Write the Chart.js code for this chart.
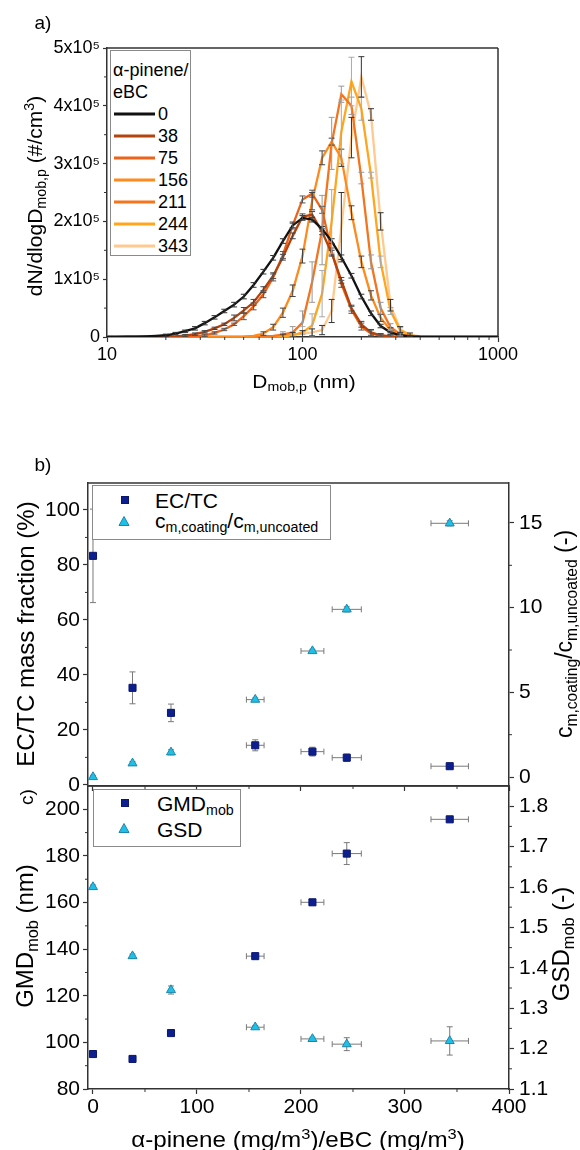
<!DOCTYPE html>
<html>
<head>
<meta charset="utf-8">
<script src="https://cdn.jsdelivr.net/npm/chart.js@4.4.1/dist/chart.umd.min.js"></script>
<style>
html,body{margin:0;padding:0;background:#fff;}
#wrap{position:relative;width:580px;height:1150px;overflow:hidden;font-family:"Liberation Sans",Arial,Helvetica,sans-serif;color:#000;}
canvas{position:absolute;left:0;}
.t{position:absolute;white-space:nowrap;line-height:1;}
.rot{transform:translate(-50%,-50%) rotate(-90deg);}
.ctr{transform:translate(-50%,-50%);}
.hs{transform:translate(-50%,-50%) scaleX(1.1);}
.sb{font-size:0.68em;vertical-align:-0.3em;}
.sp{font-size:0.68em;vertical-align:0.55em;}
.leg{position:absolute;border:1px solid #8a8a8a;background:#fff;box-sizing:border-box;}
.leg .it{position:absolute;white-space:nowrap;line-height:1;transform:translateY(-50%);}
.leg .ln{position:absolute;height:3px;transform:translateY(-50%);}
.leg svg{position:absolute;transform:translate(-50%,-50%);}
</style>
</head>
<body>
<div id="wrap">
  <canvas id="cA" width="580" height="410" style="top:0px"></canvas>
  <canvas id="cB" width="580" height="380" style="top:440px"></canvas>
  <canvas id="cC" width="580" height="390" style="top:760px"></canvas>

  <div class="t ctr" style="left:43px;top:22px;font-size:19px">a)</div>
  <div class="t ctr" style="left:43px;top:464px;font-size:19px">b)</div>
  <div class="t rot" style="left:26px;top:797px;font-size:19px">c)</div>

  <div class="t rot" style="left:35px;top:196px;font-size:21px">dN/dlogD<span class="sb">mob,p</span> (#/cm<span class="sp">3</span>)</div>
  <div class="t hs" style="left:304px;top:383px;font-size:19px">D<span class="sb">mob,p</span> (nm)</div>

  <div class="t rot" style="left:26px;top:634px;font-size:24px">EC/TC mass fraction (%)</div>
  <div class="t rot" style="left:566px;top:634px;font-size:23px">c<span class="sb">m,coating</span>/c<span class="sb">m,uncoated</span> (-)</div>

  <div class="t rot" style="left:27px;top:936px;font-size:24px">GMD<span class="sb">mob</span> (nm)</div>
  <div class="t rot" style="left:563px;top:944px;font-size:24px">GSD<span class="sb">mob</span> (-)</div>
  <div class="t hs" style="left:298px;top:1139px;font-size:22px">α-pinene (mg/m<span class="sp">3</span>)/eBC (mg/m<span class="sp">3</span>)</div>

  <div class="leg" id="legA" style="left:110px;top:50px;width:81px;height:206px;"></div>
  <div class="leg" id="legB" style="left:92px;top:485px;width:239px;height:55px;"></div>
  <div class="leg" id="legC" style="left:93px;top:789px;width:148px;height:58px;"></div>
</div>

<script>
const FONT = '"Liberation Sans", Arial, Helvetica, sans-serif';

// ---------- Panel a: size distributions (values in units of 10^5 #/cm3) ----------
const diameters = [10,11.2,12.6,14.1,15.8,17.8,20,22.4,25.1,28.2,31.6,35.5,39.8,44.7,50.1,56.2,63.1,70.8,79.4,89.1,100,112,126,141,158,178,200,224,251,282,316,355,398,447,501,562,631,708,794,891,1000];
const loadingLabels = ['0','38','75','156','211','244','343'];
const dist0   = [0,0.002,0.004,0.007,0.012,0.02,0.03,0.06,0.1,0.15,0.24,0.34,0.45,0.56,0.7,0.9,1.13,1.37,1.66,1.93,2.06,2.03,1.87,1.66,1.38,1.06,0.7,0.41,0.19,0.08,0.03,0.01,0.004,0.002,0,0,0,0,0,0,0];
const dist38  = [0,0,0,0,0.001,0.003,0.006,0.012,0.025,0.05,0.09,0.15,0.22,0.33,0.46,0.6,0.82,1.06,1.38,1.75,2.08,2.12,1.82,1.45,0.98,0.5,0.22,0.08,0.03,0.01,0.003,0,0,0,0,0,0,0,0,0,0];
const dist75  = [0,0,0,0,0,0,0,0,0.005,0.01,0.03,0.07,0.13,0.22,0.36,0.53,0.74,1.03,1.42,1.93,2.38,2.48,2.2,1.48,0.92,0.47,0.18,0.06,0.02,0.005,0,0,0,0,0,0,0,0,0,0,0];
const dist156 = [0,0,0,0,0,0,0,0,0,0,0,0,0,0,0.005,0.02,0.06,0.17,0.42,0.8,1.4,2.35,3.1,3.38,3.1,2.15,1.3,0.72,0.33,0.12,0.04,0.01,0,0,0,0,0,0,0,0,0];
const dist211 = [0,0,0,0,0,0,0,0,0,0,0,0,0,0,0,0,0.01,0.02,0.04,0.08,0.25,0.95,1.85,3.35,4.2,4.0,2.75,1.3,0.5,0.17,0.05,0.015,0,0,0,0,0,0,0,0,0];
const dist244 = [0,0,0,0,0,0,0,0,0,0,0,0,0,0,0,0,0,0,0.01,0.03,0.08,0.2,0.75,2.0,3.55,4.42,3.95,2.8,1.3,0.45,0.12,0.03,0,0,0,0,0,0,0,0,0];
const dist343 = [0,0,0,0,0,0,0,0,0,0,0,0,0,0,0,0,0,0,0.02,0.04,0.06,0.08,0.12,0.45,1.9,3.45,4.5,3.85,2.0,0.55,0.13,0.04,0.01,0,0,0,0,0,0,0,0];

const err0   = [0,0,0,0,0,0,0.02,0.02,0.02,0.03,0.03,0.03,0.03,0.04,0.04,0.04,0.04,0.04,0.04,0.04,0.04,0.04,0.04,0.04,0.04,0.04,0.04,0.04,0.03,0.03,0.02,0.02,0,0,0,0,0,0,0,0,0];
const err38  = [0,0,0,0,0,0,0,0,0.02,0.02,0.02,0.02,0.02,0.05,0.05,0.05,0.05,0.05,0.05,0.05,0.05,0.05,0.05,0.05,0.05,0.05,0.05,0.05,0.03,0.03,0.03,0,0,0,0,0,0,0,0,0,0];
const err75  = [0,0,0,0,0,0,0,0,0,0,0.02,0.02,0.02,0.02,0.06,0.06,0.06,0.06,0.06,0.06,0.06,0.06,0.06,0.06,0.06,0.06,0.06,0.06,0.03,0.03,0,0,0,0,0,0,0,0,0,0,0];
const err156 = [0,0,0,0,0,0,0,0,0,0,0,0,0,0,0,0,0.03,0.05,0.08,0.1,0.12,0.15,0.12,0.06,0.15,0.12,0.1,0.08,0.06,0.04,0.03,0,0,0,0,0,0,0,0,0,0];
const err211 = [0,0,0,0,0,0,0,0,0,0,0,0,0,0,0,0,0,0,0.05,0.1,0.2,0.35,0.6,0.45,0.14,0.15,0.1,0.12,0.1,0.06,0.03,0,0,0,0,0,0,0,0,0,0];
const err244 = [0,0,0,0,0,0,0,0,0,0,0,0,0,0,0,0,0,0,0,0.03,0.1,0.2,0.4,0.55,0.55,0.42,0.2,0.05,0.1,0.06,0.04,0,0,0,0,0,0,0,0,0,0];
const err343 = [0,0,0,0,0,0,0,0,0,0,0,0,0,0,0,0,0,0,0.03,0.04,0.05,0.06,0.08,0.2,0.6,0.35,0.35,0.1,0.15,0.1,0.05,0.03,0,0,0,0,0,0,0,0,0];

const distSeries = [dist0, dist38, dist75, dist156, dist211, dist244, dist343];
const distErrors = [err0, err38, err75, err156, err211, err244, err343];
const lineColors = ['#111111','#b3430f','#ec6419','#ff8a1f','#f5741e','#ffa51e','#ffc98f'];
const errColors  = ['#333333','#444444','#555555','#444444','#999999','#aaaaaa','#333333'];
const yTicksA = [0,1,2,3,4,5];
const xTicksA = [10,100,1000];

// ---------- Panels b and c ----------
const loading    = [0, 38, 75, 156, 211, 244, 343];
const loadingErr = [0, 0, 0, 8.5, 11, 14, 18];
const ecTc       = [83.3, 35.3, 26.2, 14.4, 12.1, 9.9, 6.8];
const ecTcErr    = [17, 5.8, 3.2, 2.0, 1.6, 1.3, 0.6];
const massRatio    = [0, 0.81, 1.46, 4.57, 7.44, 9.9, 14.98];
const massRatioErr = [0.1, 0.1, 0.15, 0.1, 0.1, 0.15, 0.15];
const gmd    = [95, 92.9, 104, 137, 160.1, 181, 195.7];
const gmdErr = [0.6, 0.4, 0.9, 0.6, 1.2, 4.7, 0.6];
const gsd    = [1.6, 1.429, 1.345, 1.253, 1.224, 1.211, 1.219];
const gsdErr = [0.005, 0.005, 0.01, 0.004, 0.004, 0.016, 0.035];

const xTicksBC = [0, 100, 200, 300, 400];
const yTicksB  = [0, 20, 40, 60, 80, 100];
const y2TicksB = [0, 5, 10, 15];
const yTicksC  = [80, 100, 120, 140, 160, 180, 200];
const y2TicksC = [1.1, 1.2, 1.3, 1.4, 1.5, 1.6, 1.7, 1.8];

const SQ_FILL = '#0d1f8f', SQ_EDGE = '#0a1670';
const TRI_FILL = '#1fc0e6', TRI_EDGE = '#1d86ad';

// ---------- plugins ----------
function drawErr(chart, opts) {
  const ctx = chart.ctx, cap = opts.cap || 3, a = chart.chartArea;
  ctx.save();
  if (opts.clip) { ctx.beginPath(); ctx.rect(a.left, a.top - 40, a.right - a.left, a.bottom - a.top + 40); ctx.clip(); }
  ctx.lineWidth = opts.width || 1;
  chart.data.datasets.forEach((ds, i) => {
    const meta = chart.getDatasetMeta(i);
    const xs = chart.scales[meta.xAxisID], ys = chart.scales[meta.yAxisID];
    ctx.strokeStyle = ds.errColor || '#777';
    ctx.beginPath();
    ds.data.forEach((p, j) => {
      const ey = ds.errY ? ds.errY[j] : 0;
      const ex = ds.errX ? ds.errX[j] : 0;
      const px = xs.getPixelForValue(p.x), py = ys.getPixelForValue(p.y);
      if (ey > 0) {
        const y1 = ys.getPixelForValue(p.y + ey), y2 = ys.getPixelForValue(p.y - ey);
        ctx.moveTo(px, y1); ctx.lineTo(px, y2);
        ctx.moveTo(px - cap, y1); ctx.lineTo(px + cap, y1);
        ctx.moveTo(px - cap, y2); ctx.lineTo(px + cap, y2);
      }
      if (ex > 0) {
        const x1 = xs.getPixelForValue(p.x - ex), x2 = xs.getPixelForValue(p.x + ex);
        ctx.moveTo(x1, py); ctx.lineTo(x2, py);
        ctx.moveTo(x1, py - cap); ctx.lineTo(x1, py + cap);
        ctx.moveTo(x2, py - cap); ctx.lineTo(x2, py + cap);
      }
    });
    ctx.stroke();
  });
  ctx.restore();
}
const errorBarsPlugin = {
  id: 'errorBars',
  beforeDatasetsDraw(chart, args, opts) { if (opts.under) drawErr(chart, opts); },
  afterDatasetsDraw(chart, args, opts) { if (!opts.under) drawErr(chart, opts); }
};
const minorTicksPlugin = {
  id: 'minorTicks',
  afterDraw(chart, args, opts) {
    const ctx = chart.ctx;
    ctx.save();
    ctx.strokeStyle = '#333'; ctx.lineWidth = 1;
    Object.keys(chart.scales).forEach(id => {
      const vals = opts[id]; if (!vals) return;
      const s = chart.scales[id], len = opts.len || 3;
      ctx.beginPath();
      vals.forEach(v => {
        if (v < s.min || v > s.max) return;
        const p = s.getPixelForValue(v);
        if (s.isHorizontal()) { ctx.moveTo(p, s.top); ctx.lineTo(p, s.top + len); }
        else if (s.position === 'left') { ctx.moveTo(s.right, p); ctx.lineTo(s.right - len, p); }
        else { ctx.moveTo(s.left, p); ctx.lineTo(s.left + len, p); }
      });
      ctx.stroke();
    });
    ctx.restore();
  }
};
const framePlugin = {
  id: 'frame',
  afterDraw(chart, args, opts) {
    const ctx = chart.ctx, a = chart.chartArea;
    ctx.save();
    ctx.strokeStyle = '#333'; ctx.lineWidth = 1.5;
    ctx.beginPath();
    if (opts.top) { ctx.moveTo(a.left, a.top); ctx.lineTo(a.right, a.top); }
    if (opts.right) { ctx.moveTo(a.right, a.top); ctx.lineTo(a.right, a.bottom); }
    ctx.stroke();
    ctx.restore();
  }
};

function axisStyle(extra) {
  return Object.assign({
    grid: { display: true, drawOnChartArea: false, drawTicks: true, tickLength: 5, tickColor: '#333', tickWidth: 1.2 },
    border: { display: true, color: '#333', width: 1.5 }
  }, extra);
}
const fixTicks = arr => (s => { s.ticks = arr.map(v => ({ value: v })); });

// ---------- chart a ----------
const minorLog = [];
[10, 100].forEach(dec => { for (let m = 2; m <= 9; m++) minorLog.push(m * dec); });

new Chart(document.getElementById('cA'), {
  type: 'scatter',
  data: {
    datasets: distSeries.map((vals, i) => ({
      label: loadingLabels[i],
      data: diameters.map((d, j) => ({ x: d, y: vals[j] })),
      errY: distErrors[i],
      errColor: errColors[i],
      showLine: true,
      borderColor: lineColors[i],
      backgroundColor: lineColors[i],
      borderWidth: 2.3,
      pointRadius: 0,
      tension: 0,
      fill: false
    }))
  },
  options: {
    responsive: false, animation: false,
    layout: { padding: { left: 0, right: 82, top: 48, bottom: 0 } },
    plugins: {
      legend: { display: false }, tooltip: { enabled: false },
      errorBars: { under: false, cap: 3, clip: true, width: 1 },
      minorTicks: { x: minorLog, y: [0.5, 1.5, 2.5, 3.5, 4.5], len: 3 },
      frame: { top: true, right: true }
    },
    scales: {
      x: axisStyle({
        type: 'logarithmic', min: 10, max: 1000,
        afterBuildTicks: fixTicks(xTicksA),
        afterFit: s => { s.height = 73; },
        ticks: { font: { family: FONT, size: 18 }, color: '#000', padding: 2, maxRotation: 0, autoSkip: false, callback: v => String(v) }
      }),
      y: axisStyle({
        min: 0, max: 5,
        afterBuildTicks: fixTicks(yTicksA),
        afterFit: s => { s.width = 107; },
        grid: { display: true, drawOnChartArea: false, drawTicks: true, tickLength: 4, tickColor: '#333', tickWidth: 1.2 },
        ticks: { font: { family: FONT, size: 18 }, color: '#000', padding: 3, callback: v => v === 0 ? '0' : v + 'x10⁵' }
      })
    }
  },
  plugins: [errorBarsPlugin, minorTicksPlugin, framePlugin]
});

// ---------- chart b ----------
function pts(xs, ys) { return xs.map((x, i) => ({ x: x, y: ys[i] })); }

new Chart(document.getElementById('cB'), {
  type: 'scatter',
  data: {
    datasets: [
      { label: 'EC/TC', data: pts(loading, ecTc), yAxisID: 'y', errY: ecTcErr, errX: loadingErr, errColor: '#7a7a7a',
        pointStyle: 'rect', pointRadius: 5, backgroundColor: SQ_FILL, borderColor: SQ_EDGE, borderWidth: 1 },
      { label: 'c_m,coating/c_m,uncoated', data: pts(loading, massRatio), yAxisID: 'y2', errY: massRatioErr, errX: loadingErr, errColor: '#7a7a7a',
        pointStyle: 'triangle', pointRadius: 5.2, backgroundColor: TRI_FILL, borderColor: TRI_EDGE, borderWidth: 1 }
    ]
  },
  options: {
    responsive: false, animation: false,
    layout: { padding: { left: 0, right: 0, top: 43, bottom: 0 } },
    plugins: {
      legend: { display: false }, tooltip: { enabled: false },
      errorBars: { under: true, cap: 3, width: 1 },
      minorTicks: { x: [50, 150, 250, 350], y: [10, 30, 50, 70, 90], y2: [2.5, 7.5, 12.5], len: 3 },
      frame: { top: true }
    },
    scales: {
      x: axisStyle({
        type: 'linear', min: -4.8, max: 400,
        afterBuildTicks: fixTicks(xTicksBC),
        afterFit: s => { s.height = 34; },
        ticks: { display: false }
      }),
      y: axisStyle({
        position: 'left', min: -0.4, max: 109.8,
        afterBuildTicks: fixTicks(yTicksB),
        afterFit: s => { s.width = 88; },
        ticks: { font: { family: FONT, size: 21 }, color: '#000', padding: 3, callback: v => String(v) }
      }),
      y2: axisStyle({
        position: 'right', min: -0.53, max: 17.36,
        afterBuildTicks: fixTicks(y2TicksB),
        afterFit: s => { s.width = 71; },
        ticks: { font: { family: FONT, size: 21 }, color: '#000', padding: 5, callback: v => String(v) }
      })
    }
  },
  plugins: [errorBarsPlugin, minorTicksPlugin, framePlugin]
});

// ---------- chart c ----------
new Chart(document.getElementById('cC'), {
  type: 'scatter',
  data: {
    datasets: [
      { label: 'GMD_mob', data: pts(loading, gmd), yAxisID: 'y', errY: gmdErr, errX: loadingErr, errColor: '#7a7a7a',
        pointStyle: 'rect', pointRadius: 5, backgroundColor: SQ_FILL, borderColor: SQ_EDGE, borderWidth: 1 },
      { label: 'GSD', data: pts(loading, gsd), yAxisID: 'y2', errY: gsdErr, errX: loadingErr, errColor: '#7a7a7a',
        pointStyle: 'triangle', pointRadius: 5.2, backgroundColor: TRI_FILL, borderColor: TRI_EDGE, borderWidth: 1 }
    ]
  },
  options: {
    responsive: false, animation: false,
    layout: { padding: { left: 0, right: 0, top: 26, bottom: 0 } },
    plugins: {
      legend: { display: false }, tooltip: { enabled: false },
      errorBars: { under: true, cap: 3, width: 1 },
      minorTicks: { x: [50, 150, 250, 350], y: [90, 110, 130, 150, 170, 190], y2: [1.15, 1.25, 1.35, 1.45, 1.55, 1.65, 1.75], len: 3 },
      frame: { top: true }
    },
    scales: {
      x: axisStyle({
        type: 'linear', min: -4.8, max: 400,
        afterBuildTicks: fixTicks(xTicksBC),
        afterFit: s => { s.height = 61; },
        ticks: { font: { family: FONT, size: 21 }, color: '#000', padding: 1, maxRotation: 0, autoSkip: false, callback: v => String(v) }
      }),
      y: axisStyle({
        position: 'left', min: 80, max: 210,
        afterBuildTicks: fixTicks(yTicksC),
        afterFit: s => { s.width = 88; },
        ticks: { font: { family: FONT, size: 21 }, color: '#000', padding: 3, callback: v => String(v) }
      }),
      y2: axisStyle({
        position: 'right', min: 1.1, max: 1.85,
        afterBuildTicks: fixTicks(y2TicksC),
        afterFit: s => { s.width = 71; },
        ticks: { font: { family: FONT, size: 21 }, color: '#000', padding: 5, callback: v => Number(v).toFixed(1) }
      })
    }
  },
  plugins: [errorBarsPlugin, minorTicksPlugin, framePlugin]
});

// ---------- HTML legends ----------
(function () {
  const legA = document.getElementById('legA');
  let h = '<div class="it" style="left:2px;top:19px;font-size:18px">α-pinene/</div>' +
          '<div class="it" style="left:2px;top:41px;font-size:18px">eBC</div>';
  loadingLabels.forEach((lab, i) => {
    const y = 63 + i * 22;
    h += '<div class="ln" style="left:3px;top:' + y + 'px;width:41px;background:' + lineColors[i] + '"></div>';
    h += '<div class="it" style="left:47px;top:' + y + 'px;font-size:18px">' + lab + '</div>';
  });
  legA.innerHTML = h;

  const sq = (x, y) => '<svg width="9" height="9" style="left:' + x + 'px;top:' + y + 'px"><rect x="1" y="1" width="7" height="7" fill="' + SQ_FILL + '" stroke="' + SQ_EDGE + '" stroke-width="1"/></svg>';
  const tri = (x, y) => '<svg width="12" height="11" style="left:' + x + 'px;top:' + y + 'px"><polygon points="6,1 11,10 1,10" fill="' + TRI_FILL + '" stroke="' + TRI_EDGE + '" stroke-width="1"/></svg>';

  document.getElementById('legB').innerHTML =
    sq(32, 14) + '<div class="it" style="left:62px;top:14px;font-size:21px">EC/TC</div>' +
    tri(31, 35) + '<div class="it" style="left:62px;top:36px;font-size:21px">c<span class="sb">m,coating</span>/c<span class="sb">m,uncoated</span></div>';

  document.getElementById('legC').innerHTML =
    sq(31, 13) + '<div class="it" style="left:63px;top:15px;font-size:21px">GMD<span class="sb">mob</span></div>' +
    tri(30, 38) + '<div class="it" style="left:63px;top:39px;font-size:21px">GSD</div>';
})();
</script>
</body>
</html>
